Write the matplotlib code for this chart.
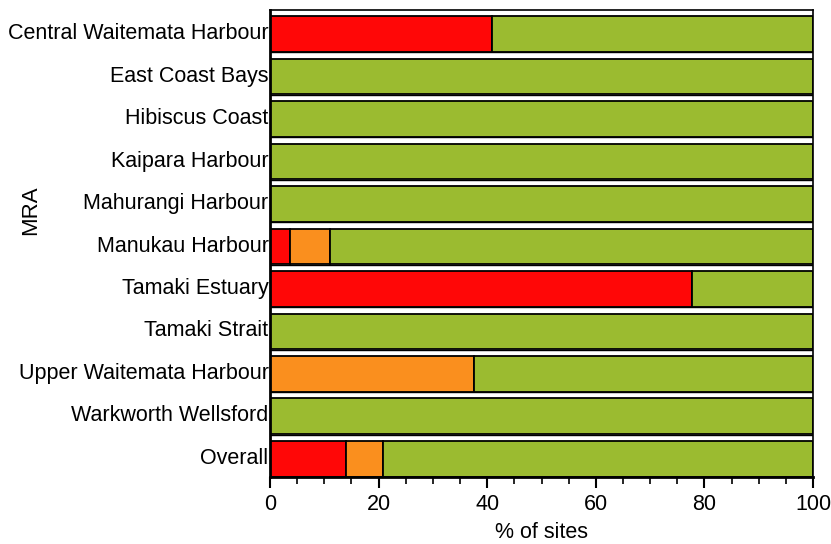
import matplotlib
matplotlib.use("Agg")
import matplotlib.pyplot as plt
from matplotlib.ticker import MultipleLocator
import numpy as np

plt.rcParams['font.family'] = ['Liberation Sans', 'DejaVu Sans']

categories = ["Central Waitemata Harbour", "East Coast Bays", "Hibiscus Coast",
              "Kaipara Harbour", "Mahurangi Harbour", "Manukau Harbour",
              "Tamaki Estuary", "Tamaki Strait", "Upper Waitemata Harbour",
              "Warkworth Wellsford", "Overall"]
red_pct = [40.9, 0, 0, 0, 0, 3.6, 77.8, 0, 0, 0, 14.0]
orange_pct = [0, 0, 0, 0, 0, 7.4, 0, 0, 37.5, 0, 6.9]
green_pct = [100 - r - o for r, o in zip(red_pct, orange_pct)]

c_red = "#ff0707"
c_orange = "#fa8f1e"
c_green = "#9bbb30"

fig = plt.figure(figsize=(8.31, 5.44), dpi=100)
ax = fig.add_axes([270 / 831, 1 - 477 / 544, 543 / 831, 467 / 544])

y = np.arange(len(categories))
h = 0.84
off = 0.07  # bars sit a little low within their row
left = np.zeros(len(categories))
for vals, col in [(red_pct, c_red), (orange_pct, c_orange), (green_pct, c_green)]:
    vals = np.array(vals)
    ax.barh(y + off, vals, left=left, height=h, color=col,
            edgecolor="black", linewidth=1.3)
    left += vals

# panel separators
for b in y[:-1] + 0.5:
    ax.axhline(b, color="black", linewidth=1.0)

ax.set_xlim(0, 100)
ax.set_ylim(len(categories) - 0.5, -0.5)
ax.set_yticks(y)
ax.set_yticklabels(categories, fontsize=15.5)
ax.tick_params(axis="y", length=0, pad=1)
ax.xaxis.set_major_locator(MultipleLocator(20))
ax.xaxis.set_minor_locator(MultipleLocator(5))
ax.tick_params(axis="x", which="major", length=8, width=1.5, labelsize=15.5, pad=4)
ax.tick_params(axis="x", which="minor", length=5, width=1.2)
ax.set_xlabel("% of sites", fontsize=15.5, labelpad=5)

for s in ["left", "bottom"]:
    ax.spines[s].set_linewidth(2)
for s in ["top", "right"]:
    ax.spines[s].set_linewidth(1.2)

fig.text(31 / 831, 1 - 210 / 544, "MRA", rotation=90, fontsize=16,
         ha="center", va="center")

fig.savefig("out.png", dpi=100)
